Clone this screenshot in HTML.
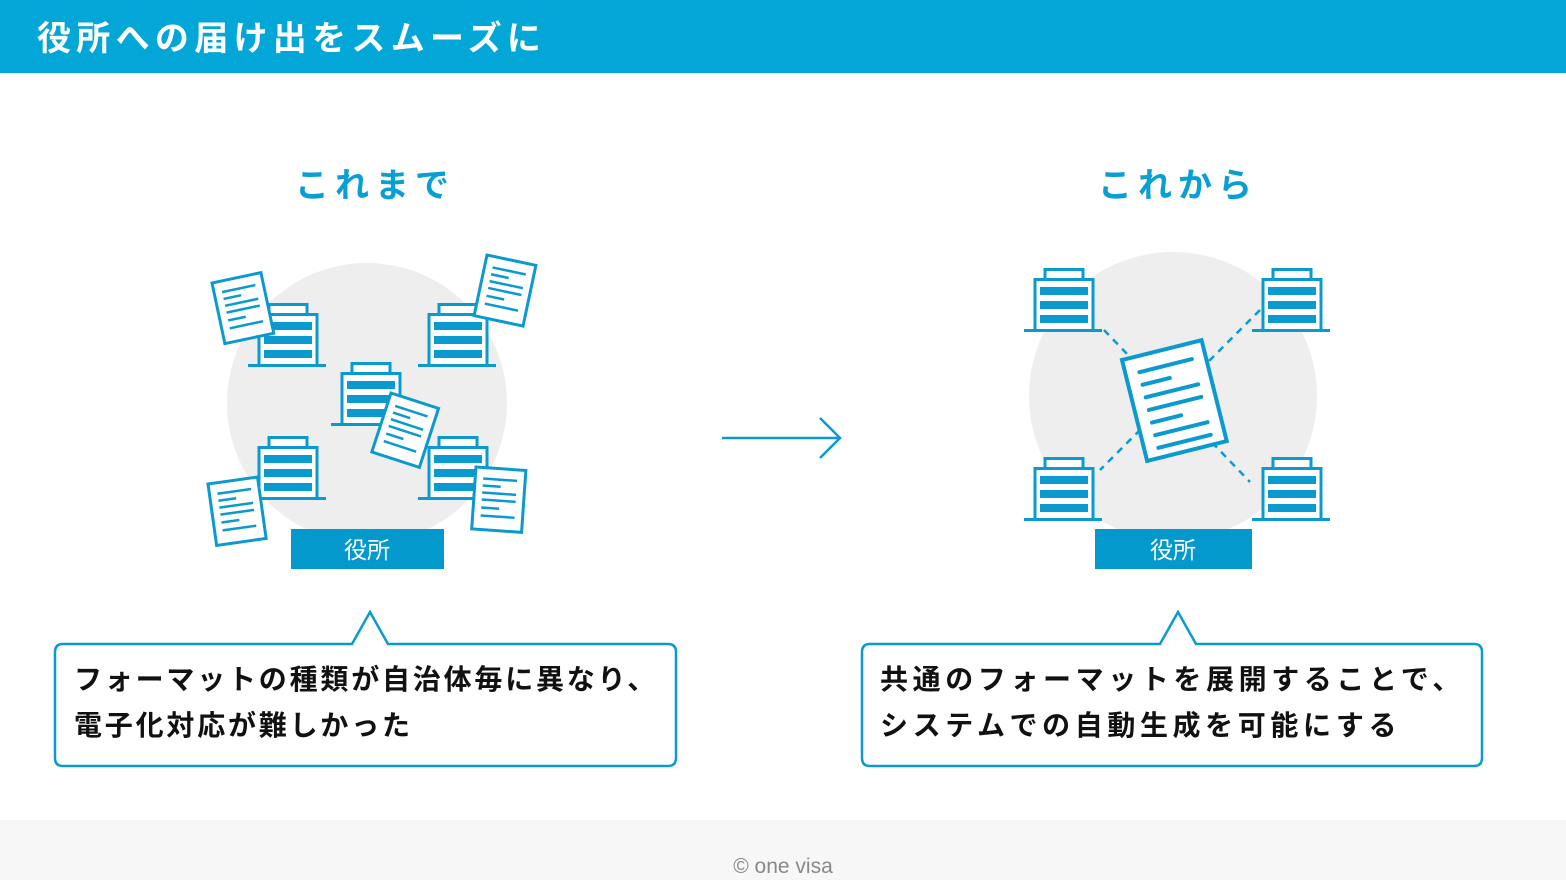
<!DOCTYPE html>
<html><head><meta charset="utf-8"><style>
body{margin:0;width:1566px;height:880px;overflow:hidden;background:#fff;font-family:"Liberation Sans","Noto Sans CJK JP",sans-serif}
</style></head><body>
<svg width="1566" height="880" viewBox="0 0 1566 880" xmlns="http://www.w3.org/2000/svg" style="display:block">
<defs>
<g id="b">
<rect x="21" y="1.5" width="38" height="10" fill="#fff" stroke="#0a9ad0" stroke-width="3"/>
<rect x="11" y="11.5" width="58" height="51" fill="#fff" stroke="#0a9ad0" stroke-width="3"/>
<rect x="16" y="19" width="48" height="8" fill="#0a9ad0"/>
<rect x="16" y="33" width="48" height="8" fill="#0a9ad0"/>
<rect x="16" y="47" width="48" height="8" fill="#0a9ad0"/>
<line x1="0" y1="62.5" x2="78" y2="62.5" stroke="#0a9ad0" stroke-width="3"/>
</g>
<g id="d">
<rect x="0" y="0" width="50" height="62" fill="#fff" stroke="#0a9ad0" stroke-width="3"/>
<g stroke="#0a9ad0" stroke-width="2.5">
<line x1="8" y1="11" x2="42" y2="11"/><line x1="8" y1="18" x2="26" y2="18"/>
<line x1="8" y1="25" x2="42" y2="25"/><line x1="8" y1="32" x2="42" y2="32"/>
<line x1="8" y1="40" x2="26" y2="40"/><line x1="8" y1="48" x2="42" y2="48"/>
</g></g>
</defs>
<rect x="0" y="0" width="1566" height="73" fill="#02a7d8"/>
<text x="37" y="50" fill="#fff" font-size="34" font-weight="bold" letter-spacing="5.3">役所への届け出をスムーズに</text>
<rect x="0" y="820" width="1566" height="60" fill="#f7f7f7"/>
<text x="783" y="873" fill="#888" font-size="21" text-anchor="middle">© one visa</text>

<text x="375" y="197" fill="#0a9fd4" font-size="34" font-weight="bold" text-anchor="middle" letter-spacing="6">これまで</text>
<text x="1178" y="197" fill="#0a9fd4" font-size="34" font-weight="bold" text-anchor="middle" letter-spacing="6">これから</text>

<circle cx="367" cy="403" r="140" fill="#eeeeee"/>
<use href="#b" x="248" y="303"/>
<use href="#b" x="418" y="303"/>
<use href="#b" x="331" y="362"/>
<use href="#b" x="248" y="436"/>
<use href="#b" x="418" y="436"/>
<use href="#d" transform="translate(212,283) rotate(-12)"/>
<use href="#d" transform="translate(487,255) rotate(12)"/>
<use href="#d" transform="translate(391,393) rotate(18)"/>
<use href="#d" transform="translate(208,484) rotate(-8)"/>
<use href="#d" transform="translate(476,467) rotate(4)"/>
<rect x="291" y="529" width="153" height="40" fill="#0399cc"/>
<text x="367" y="558" fill="#fff" font-size="23" text-anchor="middle">役所</text>

<line x1="722" y1="438" x2="840" y2="438" stroke="#0a9ad0" stroke-width="2.5"/>
<polyline points="820,418 840,438 820,458" fill="none" stroke="#0a9ad0" stroke-width="2.5"/>

<circle cx="1173" cy="396" r="144" fill="#eeeeee"/>
<g stroke="#0a9ad0" stroke-width="2.5" stroke-dasharray="7,6">
<line x1="1104" y1="330" x2="1250" y2="482"/>
<line x1="1260" y1="310" x2="1100" y2="470"/>
</g>
<use href="#b" x="1024" y="268"/>
<use href="#b" x="1252" y="268"/>
<use href="#b" x="1024" y="457"/>
<use href="#b" x="1252" y="457"/>
<g transform="translate(1122,360) rotate(-14)">
<rect x="0" y="0" width="82" height="104" fill="#fff" stroke="#0a9ad0" stroke-width="4"/>
<g stroke="#0a9ad0" stroke-width="4" stroke-linecap="round">
<line x1="14" y1="16" x2="68" y2="16"/><line x1="14" y1="29" x2="42" y2="29"/>
<line x1="14" y1="42" x2="68" y2="42"/><line x1="14" y1="55" x2="68" y2="55"/>
<line x1="14" y1="68" x2="44" y2="68"/><line x1="14" y1="81" x2="68" y2="81"/>
<line x1="14" y1="94" x2="68" y2="94"/>
</g></g>
<rect x="1095" y="529" width="157" height="40" fill="#0399cc"/>
<text x="1173" y="558" fill="#fff" font-size="23" text-anchor="middle">役所</text>

<path d="M63,644 H352 L370,612 L388,644 H668 Q676,644 676,652 V758 Q676,766 668,766 H63 Q55,766 55,758 V652 Q55,644 63,644 Z" fill="#fff" stroke="#0a9ad0" stroke-width="2.5"/>
<text x="74" y="689" fill="#111" font-size="28" font-weight="bold" letter-spacing="2.8">フォーマットの種類が自治体毎に異なり、</text>
<text x="74" y="735" fill="#111" font-size="28" font-weight="bold" letter-spacing="2.8">電子化対応が難しかった</text>

<path d="M870,644 H1160 L1178,612 L1196,644 H1474 Q1482,644 1482,652 V758 Q1482,766 1474,766 H870 Q862,766 862,758 V652 Q862,644 870,644 Z" fill="#fff" stroke="#0a9ad0" stroke-width="2.5"/>
<text x="880" y="689" fill="#111" font-size="28" font-weight="bold" letter-spacing="4.6">共通のフォーマットを展開することで、</text>
<text x="880" y="735" fill="#111" font-size="28" font-weight="bold" letter-spacing="4.6">システムでの自動生成を可能にする</text>
</svg>
</body></html>
